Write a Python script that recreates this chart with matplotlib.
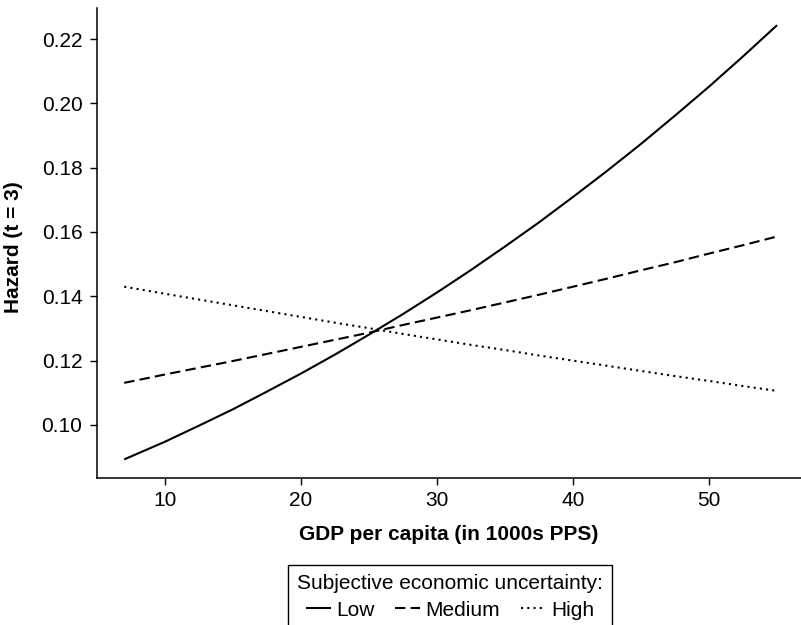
import matplotlib
matplotlib.use("Agg")
import matplotlib.pyplot as plt
from matplotlib.lines import Line2D

plt.rcParams['font.family'] = ['Liberation Sans', 'DejaVu Sans']

# GDP per capita (in 1000s PPS)
gdp = [7, 10, 12.5, 15, 17.5, 20, 22.5, 25, 27.5, 30, 32.5, 35,
       37.5, 40, 42.5, 45, 47.5, 50, 52.5, 55]

# Predicted hazard at t = 3 by level of subjective economic uncertainty
hazard_low = [0.0893, 0.0948, 0.0998, 0.1049, 0.1104, 0.1160, 0.1219, 0.1281, 0.1345, 0.1412,
              0.1482, 0.1555, 0.1630, 0.1709, 0.1790, 0.1874, 0.1962, 0.2052, 0.2146, 0.2243]
hazard_medium = [0.1131, 0.1157, 0.1178, 0.1199, 0.1221, 0.1243, 0.1265, 0.1287, 0.1311, 0.1334,
                 0.1357, 0.1381, 0.1405, 0.1430, 0.1455, 0.1481, 0.1506, 0.1533, 0.1559, 0.1586]
hazard_high = [0.1430, 0.1408, 0.1390, 0.1372, 0.1354, 0.1336, 0.1318, 0.1301, 0.1283, 0.1266,
               0.1249, 0.1233, 0.1216, 0.1200, 0.1184, 0.1168, 0.1152, 0.1137, 0.1121, 0.1106]

series_labels = ["Low", "Medium", "High"]
x_ticks = [10, 20, 30, 40, 50]
y_ticks = [0.10, 0.12, 0.14, 0.16, 0.18, 0.20, 0.22]

W, H = 801, 625
fig = plt.figure(figsize=(W / 100, H / 100), dpi=100)
ax = fig.add_axes([97 / W, 1 - 478 / H, (W - 97) / W, (478 - 8) / H])

lw = 1.5
styles = [(0, ()), (0, (5.0, 2.5)), (0, (1.0, 2.0))]
for ys, ls, lab in zip([hazard_low, hazard_medium, hazard_high], styles, series_labels):
    ax.plot(gdp, ys, color="black", lw=lw, linestyle=ls, label=lab,
            solid_capstyle="butt", dash_capstyle="butt")

ax.set_xlim(5.0, 56.76)
ax.set_ylim(0.08352, 0.22964)
ax.set_xticks(x_ticks)
ax.set_yticks(y_ticks)
ax.set_yticklabels([f"{v:.2f}" for v in y_ticks])

for s in ["top", "right"]:
    ax.spines[s].set_visible(False)
for s in ["left", "bottom"]:
    ax.spines[s].set_linewidth(1.1)

ax.tick_params(axis="both", direction="out", length=5, width=1.0,
               labelsize=15, color="black", labelcolor="black")
ax.tick_params(axis="y", pad=5.5)
ax.tick_params(axis="x", pad=4)

ax.set_xlabel("GDP per capita (in 1000s PPS)", fontsize=15, fontweight="bold")
ax.xaxis.set_label_coords(0.5, -0.100)
ax.set_ylabel("Hazard (t = 3)", fontsize=15, fontweight="bold")
ax.yaxis.set_label_coords(-0.105, 0.491)

handles = [Line2D([], [], color="black", lw=lw, linestyle=ls) for ls in styles]
leg = fig.legend(handles, series_labels, title="Subjective economic uncertainty:",
                 loc="upper center", bbox_to_anchor=(450 / W, 1 - 565 / H),
                 ncol=3, fontsize=15, title_fontsize=15, frameon=True,
                 fancybox=False, edgecolor="black", framealpha=1,
                 handlelength=1.2, handletextpad=0.25, columnspacing=1.0,
                 borderpad=0.45, borderaxespad=0, labelspacing=0.35)
leg.get_frame().set_linewidth(1.0)

fig.savefig("out.png", dpi=100, facecolor="white")
